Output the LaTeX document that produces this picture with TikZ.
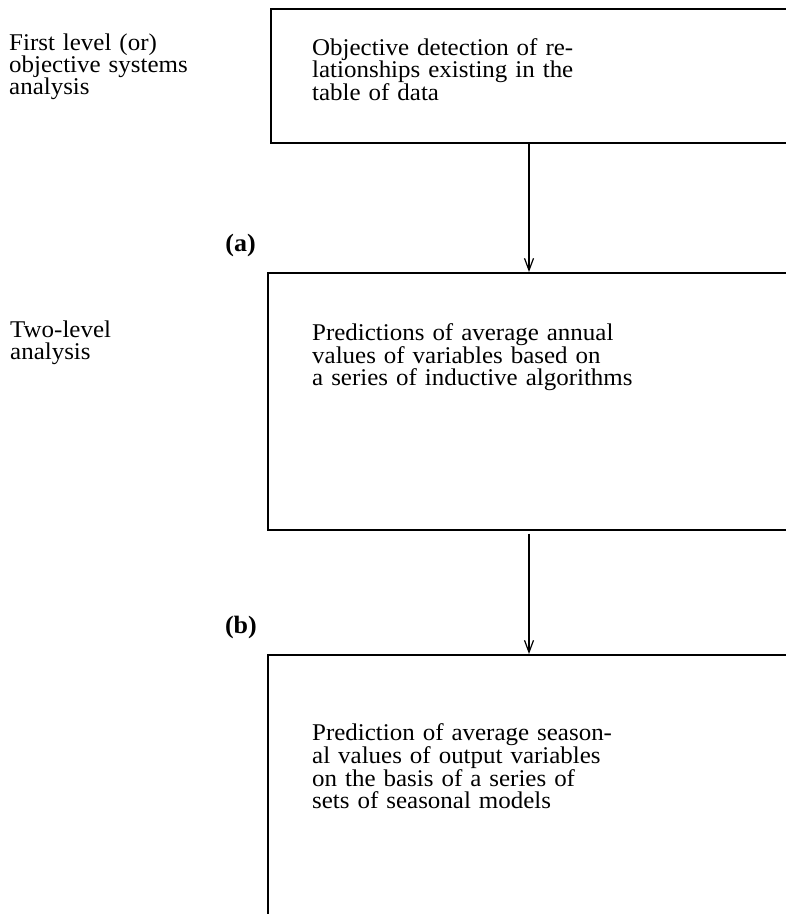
\documentclass[tikz,border=0pt]{standalone}
\usepackage{fontspec}
\setmainfont[FakeStretch=1.04]{Liberation Serif}
\usetikzlibrary{arrows.meta}
\tikzset{
  boxshape/.style={draw, line width=1.6pt, minimum width=560pt, anchor=north west, inner sep=0pt},
  txt/.style={font=\fontsize{24}{22}\selectfont, text width=330pt, align=left, inner sep=0pt, anchor=base west},
  lbl/.style={font=\fontsize{25}{22}\selectfont\bfseries, inner sep=0pt, anchor=base east},
  flow/.style={line width=1.2pt, -{Straight Barb[length=12pt,width=9pt,line width=1.2pt]}}
}
\begin{document}
\begin{tikzpicture}[x=1pt,y=-1pt]
\clip (0,0) rectangle (786,914);
\fill[white] (0,0) rectangle (786,914);
% boxes
\node[boxshape, minimum height=134pt] (b1) at (270,8) {};
\node[boxshape, minimum height=257pt] (b2) at (267,272) {};
\node[boxshape, minimum height=300pt] (b3) at (267,654) {};
% arrow axis
\coordinate (ax) at (529,0);
\draw[flow] (b1.south -| ax) -- (b2.north -| ax);
\draw[flow] ([yshift=-3pt]b2.south -| ax) -- (b3.north -| ax);
% texts
\node[txt] (l1) at (9,50) {First level (or)\\objective systems\\analysis};
\node[txt] (t1) at (312,55) {Objective detection of re-\\lationships existing in the\\table of data};
\node[lbl] (la) at (256,251) {(a)};
\node[txt] (l2) at (10,337) {Two-level\\analysis};
\node[txt] (t2) at (312,340) {Predictions of average annual\\values of variables based on\\a series of inductive algorithms};
\node[lbl] (lb) at (257,633) {(b)};
\node[txt] (t3) at (312,740) {Prediction of average season-\\al values of output variables\\on the basis of a series of\\sets of seasonal models};
\end{tikzpicture}
\end{document}
